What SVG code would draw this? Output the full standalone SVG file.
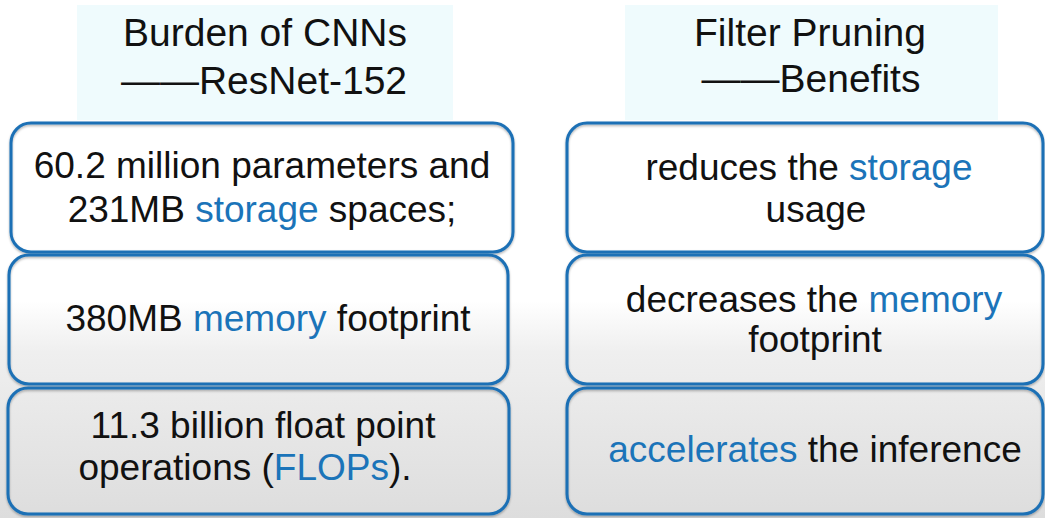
<svg xmlns="http://www.w3.org/2000/svg" width="1045" height="518" viewBox="0 0 1045 518">
  <defs>
    <linearGradient id="bg" x1="0" y1="0" x2="0" y2="518" gradientUnits="userSpaceOnUse">
      <stop offset="0" stop-color="#ffffff"/>
      <stop offset="0.58" stop-color="#ffffff"/>
      <stop offset="0.68" stop-color="#efefef"/>
      <stop offset="1" stop-color="#dddddd"/>
    </linearGradient>
    <filter id="shadow" x="-5%" y="-5%" width="110%" height="115%">
      <feDropShadow dx="0" dy="1.5" stdDeviation="1.2" flood-color="#000000" flood-opacity="0.3"/>
    </filter>
  </defs>
  <style>
    .head { fill: #effbfd; }
    .box { fill: none; stroke: #1a6fb5; stroke-width: 3; filter: url(#shadow); }
    text { font-family: "Liberation Sans", Arial, sans-serif; fill: #111111; text-anchor: middle; }
    .h { font-size: 39px; }
    .t { font-size: 37px; }
    .hl { fill: #1b74b9; }
  </style>

  <rect width="1045" height="518" fill="url(#bg)"/>

  <!-- left column: burden of CNNs -->
  <g id="head-left">
    <rect class="head" x="77" y="5" width="376" height="115"/>
    <text class="h" x="265" y="46">Burden of CNNs</text>
    <text class="h" x="264" y="94">——ResNet-152</text>
  </g>
  <g id="left-storage">
    <rect class="box" x="11" y="123" width="502" height="129" rx="20"/>
    <text class="t" x="262" y="178">60.2 million parameters and</text>
    <text class="t" x="262" y="222">231MB <tspan class="hl">storage</tspan> spaces;</text>
  </g>
  <g id="left-memory">
    <rect class="box" x="9" y="255" width="499" height="129" rx="20"/>
    <text class="t" x="268" y="331">380MB <tspan class="hl">memory</tspan> footprint</text>
  </g>
  <g id="left-flops">
    <rect class="box" x="8" y="388" width="501" height="126" rx="20"/>
    <text class="t" x="263" y="438">11.3 billion float point</text>
    <text class="t" x="245" y="480">operations (<tspan class="hl">FLOPs</tspan>).</text>
  </g>

  <!-- right column: filter pruning benefits -->
  <g id="head-right">
    <rect class="head" x="625" y="5" width="373" height="115"/>
    <text class="h" x="810" y="46">Filter Pruning</text>
    <text class="h" x="811" y="92">——Benefits</text>
  </g>
  <g id="right-storage">
    <rect class="box" x="567" y="123" width="476" height="129" rx="20"/>
    <text class="t" x="809" y="180">reduces the <tspan class="hl">storage</tspan></text>
    <text class="t" x="816" y="222">usage</text>
  </g>
  <g id="right-memory">
    <rect class="box" x="567" y="255" width="476" height="129" rx="20"/>
    <text class="t" x="814" y="312">decreases the <tspan class="hl">memory</tspan></text>
    <text class="t" x="815" y="352">footprint</text>
  </g>
  <g id="right-inference">
    <rect class="box" x="567" y="388" width="476" height="126" rx="20"/>
    <text class="t" x="815" y="462"><tspan class="hl">accelerates</tspan> the inference</text>
  </g>

  <!-- no connectors in this layout -->
  <g id="connectors"/>
</svg>
